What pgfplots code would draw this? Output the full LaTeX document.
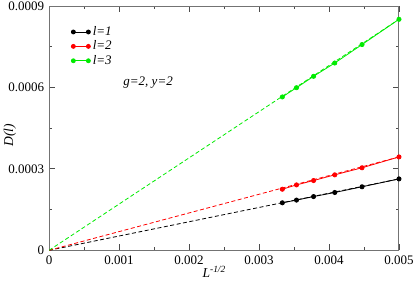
\documentclass[border=0pt]{standalone}
\usepackage{fontspec}
\setmainfont{Liberation Serif}
\usepackage{pgfplots}
\pgfplotsset{compat=1.18}
\definecolor{mygreen}{RGB}{0,235,0}
\begin{document}
\fontsize{12.5bp}{15bp}\selectfont
\begin{tikzpicture}
\path[use as bounding box] (-49bp,-35bp) rectangle (365.5bp,250bp);
\begin{axis}[
  at={(0,0)}, anchor=south west,
  scale only axis, width=349.5bp, height=244bp,
  xmin=0, xmax=0.005, ymin=0, ymax=0.0009,
  xtick={0,0.001,0.002,0.003,0.004,0.005},
  xticklabels={0,0.001,0.002,0.003,0.004,0.005},
  ytick={0,0.0003,0.0006,0.0009},
  yticklabels={0,0.0003,0.0006,0.0009},
  minor x tick num=1, minor y tick num=1,
  tick align=inside, major tick length=6bp, minor tick length=3bp,
  tick style={black!70, line width=0.8pt},
  axis line style={black!55, line width=1pt},
  scaled ticks=false,
  ticklabel style={font=\fontsize{13bp}{15bp}\selectfont},
  xticklabel style={yshift=-1bp},
  yticklabel style={xshift=-0.5bp},
  xlabel={\itshape L\textsuperscript{-1/2}},
  xlabel style={at={(axis description cs:0.472,-0.113)}, anchor=base, font=\fontsize{13.5bp}{15bp}\selectfont},
  ylabel={\itshape D(l)},
  ylabel style={at={(axis description cs:-0.112,0.47)}, anchor=center, font=\fontsize{13.5bp}{15bp}\selectfont},
  legend style={at={(axis description cs:0.062,0.925)}, anchor=north west, draw=none, fill=none,
    font=\fontsize{13bp}{15bp}\selectfont\itshape, row sep=-0.5bp, inner sep=0pt},
  legend cell align=left,
  legend image code/.code={%
    \draw[#1, mark=none] (0bp,0bp) -- (15bp,0bp);
    \fill[#1] (0bp,0bp) circle (2bp);
    \fill[#1] (15bp,0bp) circle (2bp);
  },
]
% dashed extrapolations
\addplot[black, dash pattern=on 4bp off 2.5bp, line width=0.8pt, forget plot] coordinates {(0,0) (0.0050000,0.000263)};
\addplot[red, dash pattern=on 4bp off 2.5bp, line width=0.8pt, forget plot] coordinates {(0,0) (0.0050000,0.000344)};
\addplot[mygreen, dash pattern=on 4bp off 2.5bp, line width=0.8pt, forget plot] coordinates {(0,0) (0.0050000,0.000851)};
% data
\addplot[black, line width=0.8pt, mark=*, mark size=2.1bp] coordinates {
 (0.0033333,0.000175) (0.0035355,0.000185) (0.0037796,0.000198)
 (0.0040825,0.000213) (0.0044721,0.000234) (0.0050000,0.000263)};
\addlegendentry{l=1}
\addplot[red, line width=0.8pt, mark=*, mark size=2.1bp] coordinates {
 (0.0033333,0.000225) (0.0035355,0.000241) (0.0037796,0.000257)
 (0.0040825,0.000278) (0.0044721,0.000304) (0.0050000,0.000344)};
\addlegendentry{l=2}
\addplot[mygreen, line width=0.8pt, mark=*, mark size=2.1bp] coordinates {
 (0.0033333,0.000565) (0.0035355,0.000599) (0.0037796,0.000641)
 (0.0040825,0.000690) (0.0044721,0.000758) (0.0050000,0.000851)};
\addlegendentry{l=3}
\node[anchor=base west, font=\fontsize{13bp}{15bp}\selectfont\itshape] at (axis cs:0.001,0.000608) {g=2, y=2};
\end{axis}
\end{tikzpicture}
\end{document}
